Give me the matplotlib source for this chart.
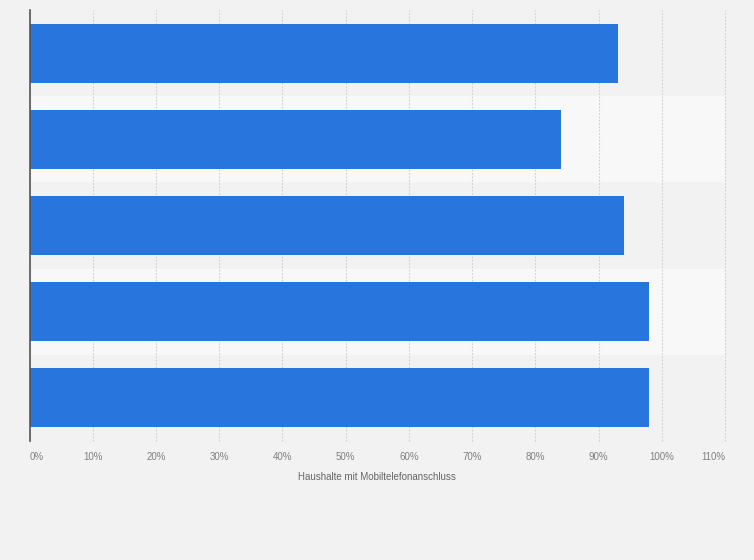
import matplotlib
matplotlib.use("Agg")
import matplotlib.pyplot as plt
import numpy as np

plt.rcParams['font.family'] = ['Liberation Sans', 'DejaVu Sans']

categories = ["A", "B", "C", "D", "E"]
values = [93, 84, 94, 98, 98]
xticks = [0, 10, 20, 30, 40, 50, 60, 70, 80, 90, 100, 110]
xticklabels = [f"{t}%" for t in xticks]
xlabel = "Haushalte mit Mobiltelefonanschluss"

fig = plt.figure(figsize=(7.54, 5.6), dpi=100)
fig.patch.set_facecolor("#f2f2f2")
ax = fig.add_axes([29.5/754, 1 - 441/560, 695.5/754, 431/560])
ax.set_facecolor("#f2f2f2")

n = len(categories)
y = np.arange(n)
for i in range(n):
    if i % 2 == 1:
        ax.axhspan(i - 0.5, i + 0.5, color="#f8f8f8", zorder=0, lw=0)

ax.barh(y, values, height=0.685, color="#2876dd", linewidth=0, zorder=3)

ax.set_xlim(0, 110)
ax.set_ylim(n - 0.5, -0.5)
ax.set_yticks([])
ax.set_xticks(xticks)
ax.set_xticklabels(xticklabels, fontsize=7, color="#808080")
lbls = ax.get_xticklabels()
lbls[0].set_ha("left")
lbls[-1].set_ha("right")
ax.tick_params(axis="x", length=0, pad=8)
ax.xaxis.grid(True, linestyle=(0, (1.5, 1.5)), color="#cfcfcf", linewidth=0.8, zorder=1)
for gl in ax.get_xgridlines():
    gl.set_clip_on(False)
ax.set_axisbelow(True)
for s in ["top", "right", "bottom"]:
    ax.spines[s].set_visible(False)
ax.spines["left"].set_color("#555555")
ax.spines["left"].set_linewidth(1.2)
ax.spines["left"].set_zorder(5)
ax.set_xlabel(xlabel, fontsize=7, color="#666666", labelpad=7)

fig.savefig("out.png", dpi=100, facecolor=fig.get_facecolor())
